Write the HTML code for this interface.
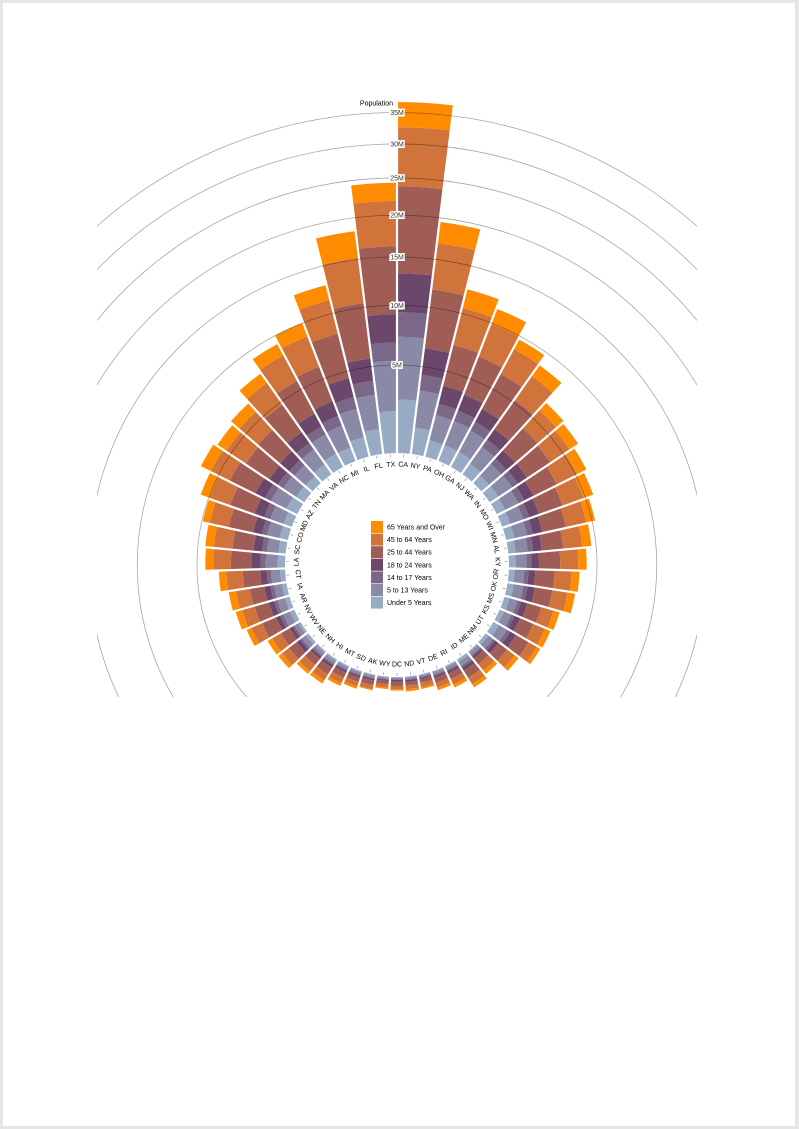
<!DOCTYPE html>
<html><head><meta charset="utf-8"><style>
html,body{margin:0;padding:0;background:#e6e6e6;}
#page{position:absolute;left:3px;top:3px;width:792px;height:1123px;background:#fff;}
#chart{position:absolute;left:97px;top:97px;}
text{font-family:"Liberation Sans",sans-serif;}
</style></head><body>
<div id="page"></div>
<svg id="chart" width="600" height="600" viewBox="0 0 600 600" style="overflow:hidden"></svg>
<script>
const states = ["CA","NY","PA","OH","GA","NJ","WA","IN","MO","WI","MN","AL","KY","OR","OK","MS","KS","UT","NM","ME","ID","RI","DE","VT","ND","DC","WY","AK","SD","MT","HI","NH","NE","WV","NV","AR","IA","CT","LA","SC","CO","MD","AZ","TN","MA","VA","NC","MI","IL","FL","TX"];
const ageGroups = ["Under 5 Years","5 to 13 Years","14 to 17 Years","18 to 24 Years","25 to 44 Years","45 to 64 Years","65 Years and Over"];
const colors = ["#98abc5","#8a89a6","#7b6888","#6b486b","#a05d56","#d0743c","#ff8c00"];
const values = {
AL:[310504,552339,259034,450818,1231572,1215966,641667],
AK:[52083,85640,42153,74257,198724,183159,50277],
AZ:[515910,828669,362642,601943,1804762,1523681,862573],
AR:[202070,343207,157204,264160,754420,727124,407205],
CA:[2704659,4499890,2159981,3853788,10604510,8819342,4114496],
CO:[358280,587154,261701,466194,1464939,1290094,511094],
CT:[211637,403658,196918,325110,916955,968967,478007],
DE:[59319,99496,47414,84464,230183,230528,121688],
DC:[36352,50439,25225,75569,193557,140043,70648],
FL:[1140516,1938695,925060,1607297,4782119,4746856,3187797],
GA:[740521,1250460,557860,919876,2846985,2389018,981024],
HI:[87207,134025,64011,124834,356237,331817,190067],
ID:[121746,201192,89702,147606,406247,375173,182150],
IL:[894368,1558919,725973,1311479,3596343,3239173,1575308],
IN:[443089,780199,361393,605863,1724528,1647881,813839],
IA:[201321,345409,165883,306398,750505,788485,444554],
KS:[202529,342134,155822,293114,728166,713663,366706],
KY:[284601,493536,229927,381394,1179637,1134283,565867],
LA:[310716,542341,254916,471275,1162463,1128771,540314],
ME:[71459,133656,69752,112682,331809,397911,199187],
MD:[371787,651923,316873,543470,1556225,1513754,679565],
MA:[383568,701752,341713,665879,1782449,1751508,871098],
MI:[625526,1179503,585169,974480,2628322,2706100,1304322],
MN:[358471,606802,289371,507289,1416063,1391878,650519],
MS:[220813,371502,174405,305964,764203,730133,371315],
MO:[399450,690476,331543,560463,1569626,1554812,805235],
MT:[61114,106088,53156,95232,236297,278241,137312],
NE:[132092,215265,99638,186657,457177,451756,240847],
NV:[199175,325650,142976,212379,769913,653357,296717],
NH:[75297,144235,73826,119114,345109,388250,169978],
NJ:[557421,1011656,478505,769321,2379649,2335168,1150941],
NM:[148323,241326,112801,203097,517154,501604,260051],
NY:[1208495,2141490,1058031,1999120,5355235,5120254,2607672],
NC:[652823,1097890,492964,883397,2575603,2380685,1139052],
ND:[41896,67358,33794,82629,154913,166615,94276],
OH:[743750,1340492,646135,1081734,3019147,3083815,1570837],
OK:[266547,438926,200562,369916,957085,918688,490637],
OR:[243483,424167,199925,338162,1044056,1036269,503998],
PA:[737462,1345341,679201,1203944,3157759,3414001,1910571],
RI:[60934,111408,56198,114502,277779,282321,147646],
SC:[303024,517803,245400,438147,1193112,1186019,596295],
SD:[58566,94438,45305,82869,196738,210178,116100],
TN:[416334,725948,336312,550612,1719433,1646623,819626],
TX:[2027307,3277946,1420518,2454721,7017731,5656528,2472223],
UT:[268916,413034,167685,329585,772024,538978,246202],
VT:[32635,62538,33757,61679,155419,188593,86649],
VA:[522672,887525,413004,768475,2203286,2033550,940577],
WA:[433119,750274,357782,610378,1850983,1762811,783877],
WV:[105435,189649,91074,157989,470749,514505,285067],
WI:[362277,640286,311849,553914,1487457,1522038,750146],
WY:[38253,60890,29314,53980,137338,147279,65614]
};
const tickValues = [5e6,10e6,15e6,20e6,25e6,30e6,35e6];
const tickLabels = ["5M","10M","15M","20M","25M","30M","35M"];

const NS="http://www.w3.org/2000/svg";
const svg=document.getElementById('chart');
const cx=300, cy=468, r0=112, k=27456/5e6;
function y(v){return Math.sqrt(r0*r0+k*v);}
const band=2*Math.PI/states.length;
function x(i){return i*band;}
function pt(a,r){return [cx+r*Math.sin(a), cy-r*Math.cos(a)];}
function mk(t,attrs){const e=document.createElementNS(NS,t);for(const a in attrs)e.setAttribute(a,attrs[a]);return e;}
const gap=1.1;
const gBars=mk('g',{});


svg.appendChild(gBars);
states.forEach((s,i)=>{
  let acc=0;
  const a0=x(i), a1=x(i)+band;
  values[s].forEach((v,j)=>{
    const ri=y(acc), ro=y(acc+v); acc+=v;
    const di=gap/ri, dO=gap/ro;
    const p1=pt(a0+di,ri), p2=pt(a0+dO,ro), p3=pt(a1-dO,ro), p4=pt(a1-di,ri);
    const d=`M${p1}L${p2}A${ro},${ro} 0 0 1 ${p3}L${p4}A${ri},${ri} 0 0 0 ${p1}Z`;
    const p=mk('path',{d:d,fill:colors[j]});
    
    
    gBars.appendChild(p);
  });
  const am=a0+band/2;
  const deg=am*180/Math.PI;
  const flip = deg>90 && deg<270;
  const t1=pt(am,r0-1), t2=pt(am,r0-4);
  const ln=mk('line',{x1:t1[0],y1:t1[1],x2:t2[0],y2:t2[1],stroke:'#999','stroke-width':'0.7'});
  
  
  svg.appendChild(ln);
  const tp=pt(am,r0-12);
  const t=mk('text',{x:tp[0],y:tp[1],'font-size':'7','text-anchor':'middle','dominant-baseline':'central',transform:`rotate(${flip?deg+180:deg},${tp[0]},${tp[1]})`});
  t.textContent=s;
  
  
  svg.appendChild(t);
});
tickValues.forEach((v,i)=>{
  const c=mk('circle',{cx:cx,cy:cy,r:y(v),fill:'none',stroke:'#000','stroke-opacity':'0.35','stroke-width':'0.8'});
  
  
  svg.appendChild(c);
  const t=mk('text',{x:cx,y:cy-y(v)+2.5,'font-size':'7','text-anchor':'middle',stroke:'#fff','stroke-width':'3','paint-order':'stroke',fill:'#333'});
  t.textContent=tickLabels[i];
  
  
  svg.appendChild(t);
});
const yt=mk('text',{x:cx-4,y:cy-y(35e6)-7,'font-size':'7','text-anchor':'end',fill:'#000'});
yt.textContent='Population';


svg.appendChild(yt);
const leg=mk('g',{});


svg.appendChild(leg);
for(let j=6;j>=0;j--){
  const row=6-j, ly=424+row*12.6;
  const r=mk('rect',{x:274,y:ly,width:12,height:12,fill:colors[j]});
  
  
  leg.appendChild(r);
  const t=mk('text',{x:290,y:ly+8.5,'font-size':'7',fill:'#000'});
  t.textContent=ageGroups[j];
  
  
  leg.appendChild(t);
}
</script>
</body></html>
